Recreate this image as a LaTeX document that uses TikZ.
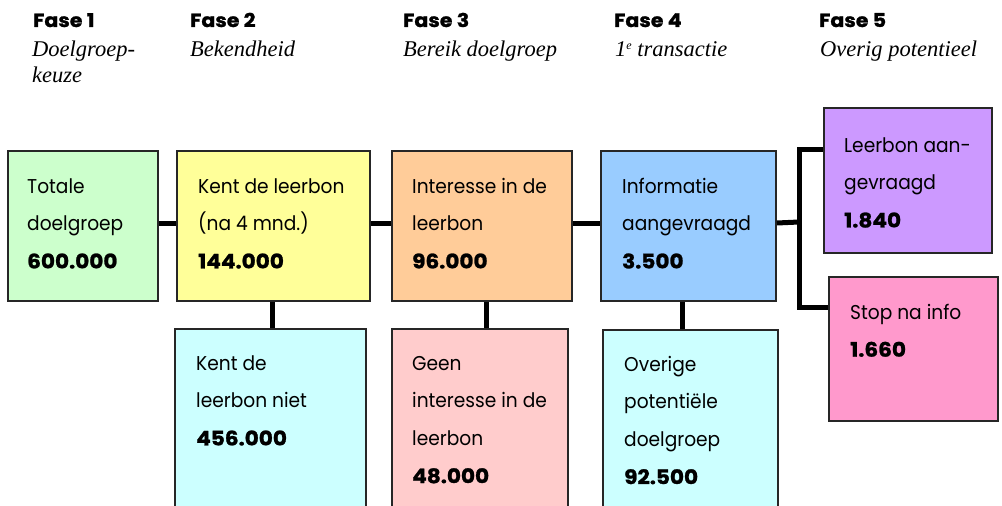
\documentclass[tikz,border=0pt]{standalone}
\usepackage{fontspec}
\newfontfamily\fut{Poppins}[FakeStretch=0.93]
\newfontfamily\numfont{Poppins}[FakeStretch=1.08, FakeBold=1.2]
\newfontfamily\gar{Liberation Serif}
\definecolor{cgreen}{HTML}{CCFFCC}
\definecolor{cyellow}{HTML}{FFFF99}
\definecolor{corange}{HTML}{FFCC99}
\definecolor{cblue}{HTML}{99CCFF}
\definecolor{cpurple}{HTML}{CC99FF}
\definecolor{cpink}{HTML}{FF99CC}
\definecolor{ccyan}{HTML}{CCFFFF}
\definecolor{crose}{HTML}{FFCCCC}
\tikzset{
  box/.style={draw=black!85, line width=2pt, inner sep=0pt, anchor=north west},
  conn/.style={draw=black, line width=5pt},
  txt/.style={anchor=base west, inner sep=0pt, font=\fut\fontsize{20}{37.7}\selectfont},
  fase/.style={anchor=base west, inner sep=0pt, font=\numfont\bfseries\fontsize{19}{22}\selectfont},
  sub/.style={anchor=base west, inner sep=0pt, font=\gar\itshape\fontsize{22.5}{27}\selectfont},
}
\newcommand{\lines}[1]{\vtop{\baselineskip=37.7pt\lineskiplimit=-100pt #1}}
\newcommand{\num}[1]{\hbox{\numfont\bfseries\fontsize{20}{20}\selectfont #1}}
\begin{document}
\begin{tikzpicture}[x=1pt,y=-1pt]
\useasboundingbox (0,0) rectangle (1002,506);
\clip (0,0) rectangle (1002,506);
% headers
\node[fase] (f1) at (33,27) {Fase 1};
\node[fase] (f2) at (190,27) {Fase 2};
\node[fase] (f3) at (403,27) {Fase 3};
\node[fase] (f4) at (614,27) {Fase 4};
\node[fase] (f5) at (819,27) {Fase 5};
\node[sub] (s1) at (32,56) {\vtop{\baselineskip=27pt\hbox{Doelgroep-}\hbox{keuze}}};
\node[sub] (s2) at (190,56) {Bekendheid};
\node[sub] (s3) at (403,56) {Bereik doelgroep};
\node[sub] (s4) at (615,56) {1\raisebox{6pt}{\fontsize{12}{12}\selectfont e} transactie};
\node[sub] (s5) at (820,56) {Overig potentieel};
% boxes
\node[box, fill=cgreen, minimum width=150pt, minimum height=150pt] (b1) at (7,150) {};
\node[box, fill=cyellow, minimum width=193pt, minimum height=150pt] (b2) at (176,150) {};
\node[box, fill=corange, minimum width=180pt, minimum height=150pt] (b3) at (391,150) {};
\node[box, fill=cblue, minimum width=175pt, minimum height=150pt] (b4) at (600,150) {};
\node[box, fill=cpurple, minimum width=168pt, minimum height=145pt] (b5a) at (823,107) {};
\node[box, fill=cpink, minimum width=169pt, minimum height=144pt] (b5b) at (828,276) {};
\node[box, fill=ccyan, minimum width=191pt, minimum height=190pt] (b2b) at (174,328) {};
\node[box, fill=crose, minimum width=176pt, minimum height=190pt] (b3b) at (391,328) {};
\node[box, fill=ccyan, minimum width=175pt, minimum height=190pt] (b4b) at (602,329) {};
% texts
\node[txt] (t1) at (27,193) {\lines{\hbox{Totale}\hbox{doelgroep}\num{600.000}}};
\node[txt] (t2) at (198,193) {\lines{\hbox{Kent de leerbon}\hbox{(na 4 mnd.)}\num{144.000}}};
\node[txt] (t3) at (412,193) {\lines{\hbox{Interesse in de}\hbox{leerbon}\num{96.000}}};
\node[txt] (t4) at (622,193) {\lines{\hbox{Informatie}\hbox{aangevraagd}\num{3.500}}};
\node[txt] (t5a) at (844,152) {\lines{\hbox{Leerbon aan-}\hbox{gevraagd}\num{1.840}}};
\node[txt] (t5b) at (850,319) {\lines{\hbox{Stop na info}\num{1.660}}};
\node[txt] (t2b) at (196,370) {\lines{\hbox{Kent de}\hbox{leerbon niet}\num{456.000}}};
\node[txt] (t3b) at (412,370) {\lines{\hbox{Geen}\hbox{interesse in de}\hbox{leerbon}\num{48.000}}};
\node[txt] (t4b) at (624,371) {\lines{\hbox{Overige}\hbox{potentiële}\hbox{doelgroep}\num{92.500}}};
% connectors
\draw[conn] ([yshift=3pt]b1.east) -- ([yshift=3pt]b2.west);
\draw[conn] ([yshift=3pt]b2.east) -- ([yshift=3pt]b3.west);
\draw[conn] ([yshift=3pt]b3.east) -- ([yshift=3pt]b4.west);
\draw[conn] ([xshift=-1.5pt]b2.south) -- ([xshift=-1.5pt]b2.south |- b2b.north);
\draw[conn] ([xshift=4pt]b3.south) -- ([xshift=4pt]b3.south |- b3b.north);
\draw[conn] ([xshift=-6.5pt]b4.south) -- ([xshift=-6.5pt]b4.south |- b4b.north);
\coordinate (fk) at (799,222);
\coordinate (ft) at (799,149);
\coordinate (fb) at (799,307);
\draw[conn] ([yshift=3pt]b4.east) -- (fk);
\draw[conn] (b5a.west |- ft) -- (ft) -- (fb) -- (b5b.west |- fb);
\end{tikzpicture}
\end{document}
